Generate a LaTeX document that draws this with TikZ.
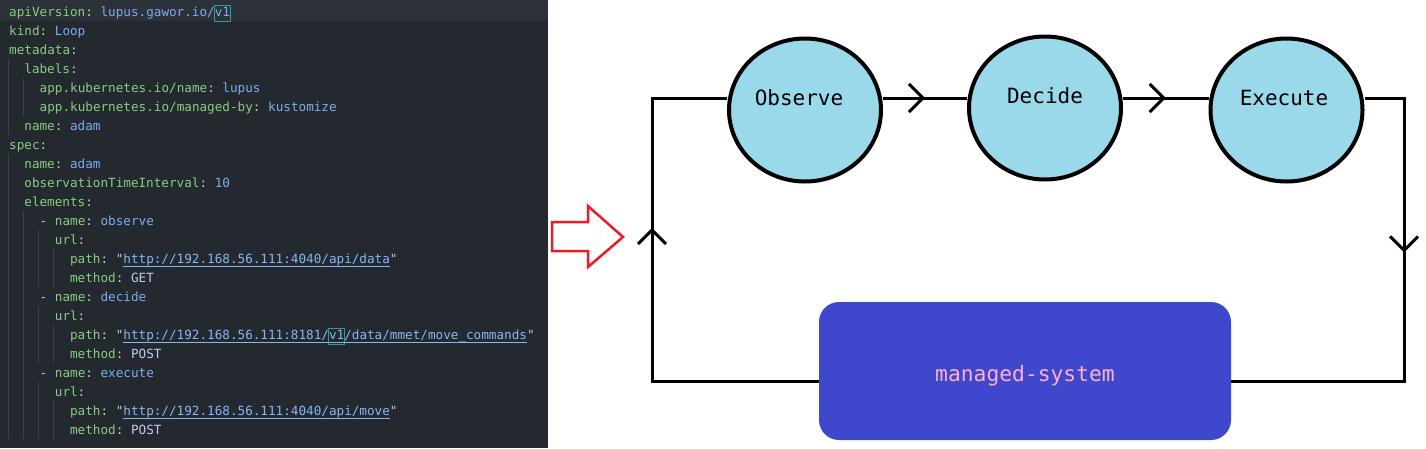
\documentclass[tikz,border=0pt]{standalone}
\usepackage{fontspec}
\setmonofont{DejaVu Sans Mono}
\usetikzlibrary{arrows.meta, shapes.geometric, decorations.markings}

\definecolor{codebg}{HTML}{24282F}
\definecolor{codehl}{HTML}{2C313A}
\definecolor{codeguide}{HTML}{3B4049}
\definecolor{ykey}{HTML}{86CF7E}
\definecolor{yval}{HTML}{79AEF0}
\definecolor{yconst}{HTML}{C0CCEC}
\definecolor{ypunc}{HTML}{C5C8CE}
\definecolor{yurl}{HTML}{86B6F5}
\definecolor{ybracket}{HTML}{2A9D9D}
\definecolor{paintred}{HTML}{ED1C24}
\definecolor{paintturq}{HTML}{99D9EA}
\definecolor{paintindigo}{HTML}{3F48CC}
\definecolor{paintrose}{HTML}{FFAEC9}

% yaml colouring
\newcommand{\yk}[1]{\textcolor{ykey}{#1}}
\newcommand{\yv}[1]{\textcolor{yval}{#1}}
\newcommand{\yc}[1]{\textcolor{yconst}{#1}}
\newcommand{\yp}[1]{\textcolor{ypunc}{#1}}
\newcommand{\yu}[1]{\textcolor{yurl}{\setbox0\hbox{#1}\rlap{\rule[-3.5pt]{\wd0}{1pt}}\box0}}
\newcommand{\ybr}[1]{\hspace{-0.8pt}{\setlength{\fboxsep}{0pt}\setlength{\fboxrule}{0.8pt}\color{ybracket}\fbox{\strut#1}}\hspace{-0.8pt}}

\begin{document}
\begin{tikzpicture}[
    x=1pt, y=-1pt,
    codeline/.style={anchor=base west, inner sep=0pt, font=\ttfamily\fontsize{12.65}{15.2}\selectfont},
    guide/.style={draw=codeguide, line width=1pt},
    stage/.style={ellipse, draw=black, line width=4pt, fill=paintturq, minimum width=152pt, minimum height=143pt,
      inner sep=0pt, font=\ttfamily\fontsize{21}{25}\selectfont, text height=16pt, text depth=25pt},
    sysbox/.style={rectangle, rounded corners=20pt, fill=paintindigo, text=paintrose, minimum width=412pt,
      minimum height=138pt, font=\ttfamily\fontsize{21.3}{25}\selectfont, text height=25pt, text depth=4pt},
    loopline/.style={draw=black, line width=3pt},
    midarrow/.style={postaction={decorate}, decoration={markings,
      mark=at position #1 with {\arrow{Straight Barb[length=14pt, width=28pt]}}}},
    hintarrow/.style={draw=paintred, line width=2.5pt, line join=miter}
  ]
  \useasboundingbox (0,0) rectangle (1426,448);
  \fill[white] (0,0) rectangle (1426,448);

  % editor panel
  \fill[codebg] (0,0) rectangle (548,448);
  \fill[codehl] (0,0) rectangle (548,21);
  \foreach \c/\a/\b in {0/4/7, 0/9/23, 2/5/6, 2/12/23, 4/13/15, 4/17/19, 4/21/23, 6/14/15, 6/18/19, 6/22/23}
    \draw[guide] ({8+\c*7.615},{2+19*(\a-1)}) -- ({8+\c*7.615},{21+19*(\b-1)});

  \node[codeline] (ln1) at (9,16.5) {\yk{apiVersion}\yp{:} \yv{lupus.gawor.io/}\ybr{\yv{v1}}};
  \node[codeline] (ln2) at (9,35.5) {\yk{kind}\yp{:} \yv{Loop}};
  \node[codeline] (ln3) at (9,54.5) {\yk{metadata}\yp{:}};
  \node[codeline] (ln4) at (24.2,73.5) {\yk{labels}\yp{:}};
  \node[codeline] (ln5) at (39.5,92.5) {\yk{app.kubernetes.io/name}\yp{:} \yv{lupus}};
  \node[codeline] (ln6) at (39.5,111.5) {\yk{app.kubernetes.io/managed-by}\yp{:} \yv{kustomize}};
  \node[codeline] (ln7) at (24.2,130.5) {\yk{name}\yp{:} \yv{adam}};
  \node[codeline] (ln8) at (9,149.5) {\yk{spec}\yp{:}};
  \node[codeline] (ln9) at (24.2,168.5) {\yk{name}\yp{:} \yv{adam}};
  \node[codeline] (ln10) at (24.2,187.5) {\yk{observationTimeInterval}\yp{:} \yv{10}};
  \node[codeline] (ln11) at (24.2,206.5) {\yk{elements}\yp{:}};
  \node[codeline] (ln12) at (39.5,225.5) {\yp{-} \yk{name}\yp{:} \yv{observe}};
  \node[codeline] (ln13) at (54.7,244.5) {\yk{url}\yp{:}};
  \node[codeline] (ln14) at (69.9,263.5) {\yk{path}\yp{: "}\yu{http://192.168.56.111:4040/api/data}\yp{"}};
  \node[codeline] (ln15) at (69.9,282.5) {\yk{method}\yp{:} \yc{GET}};
  \node[codeline] (ln16) at (39.5,301.5) {\yp{-} \yk{name}\yp{:} \yv{decide}};
  \node[codeline] (ln17) at (54.7,320.5) {\yk{url}\yp{:}};
  \node[codeline] (ln18) at (69.9,339.5) {\yk{path}\yp{: "}\yu{http://192.168.56.111:8181/}\ybr{\yu{v1}}\yu{/data/mmet/move\_commands}\yp{"}};
  \node[codeline] (ln19) at (69.9,358.5) {\yk{method}\yp{:} \yc{POST}};
  \node[codeline] (ln20) at (39.5,377.5) {\yp{-} \yk{name}\yp{:} \yv{execute}};
  \node[codeline] (ln21) at (54.7,396.5) {\yk{url}\yp{:}};
  \node[codeline] (ln22) at (69.9,415.5) {\yk{path}\yp{: "}\yu{http://192.168.56.111:4040/api/move}\yp{"}};
  \node[codeline] (ln23) at (69.9,434.5) {\yk{method}\yp{:} \yc{POST}};

  % red hint arrow
  \draw[hintarrow] (552,222) -- (588,222) -- (588,206) -- (623,237) -- (588,267) -- (588,251) -- (552,251) -- cycle;

  % loop
  \node[stage] (obs) at (805,110) {\hspace*{-12pt}Observe};
  \node[stage] (dec) at (1045,108) {Decide};
  \node[stage] (exe) at (1286.5,110) {\hspace*{-5pt}Execute};
  \node[sysbox] (sys) at (1025,371) {managed-system};

  \coordinate (lt) at (652,98);
  \coordinate (rt) at (1404,98);
  \coordinate (rb) at (1404,381);

  \draw[loopline, midarrow=320pt] ([yshift=-10pt]sys.west) -| (lt) -- (obs.west |- lt);
  \draw[loopline, midarrow=0.5] (obs.east |- lt) -- (dec.west |- lt);
  \draw[loopline, midarrow=0.5] (dec.east |- lt) -- (exe.west |- lt);
  \draw[loopline, midarrow=194pt] (exe.east |- rt) -- (rt) -- (rb) -- (sys.east |- rb);
\end{tikzpicture}
\end{document}
